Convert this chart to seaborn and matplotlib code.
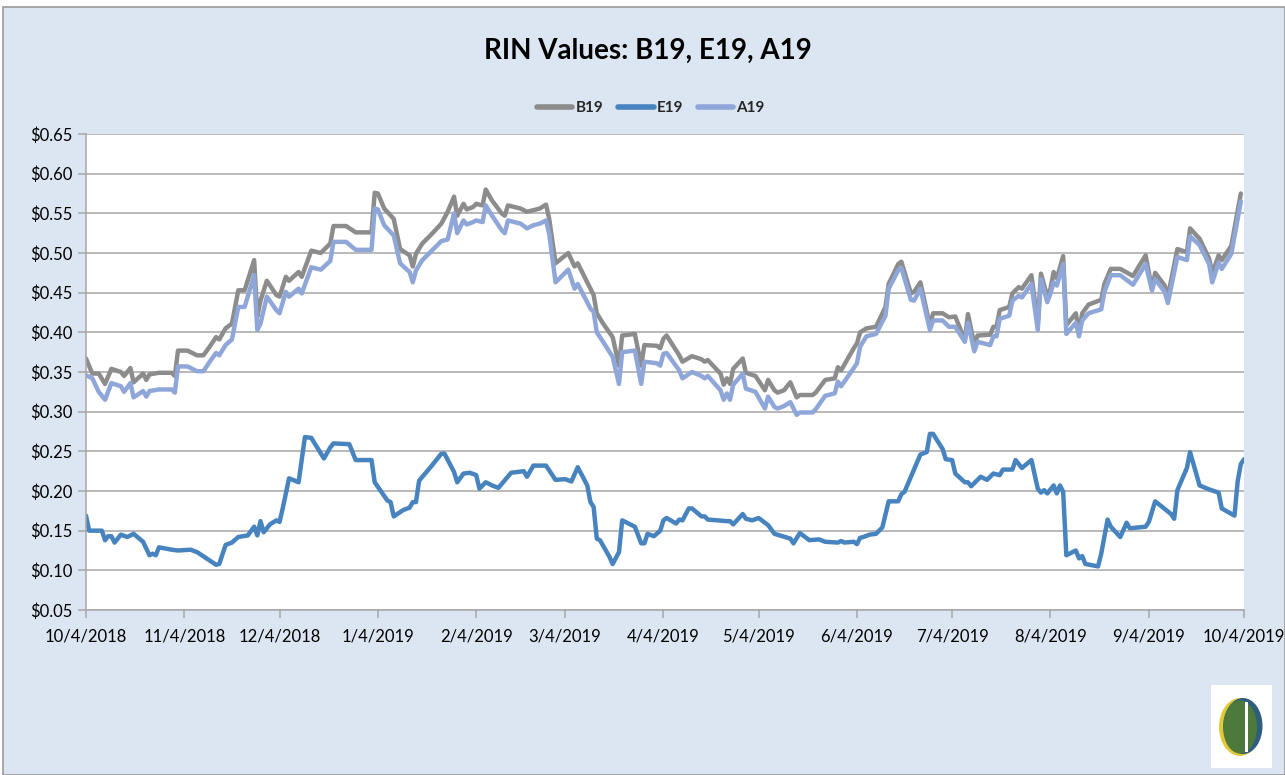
import matplotlib
matplotlib.use("Agg")
import matplotlib.pyplot as plt
import matplotlib.dates as mdates
from matplotlib.patches import Rectangle, Ellipse
from matplotlib.ticker import FuncFormatter, MultipleLocator
import seaborn as sns
import pandas as pd
import numpy as np

# -------------------------------
# Data, days counted from 10/4/2018
# -------------------------------
start = pd.Timestamp("2018-10-04")
end = pd.Timestamp("2019-10-04")

ba_days = [0, 2, 4, 6, 8, 11, 12, 14, 15, 18, 19, 20, 23, 27, 28, 29, 32, 35, 37, 39,
           41, 42, 44, 46, 48, 50, 53, 54, 55, 57, 60, 61, 63, 64, 67, 68, 71, 74, 77, 78,
           82, 85, 90, 91, 92, 94, 97, 99, 102, 103, 104, 106, 109, 112, 114, 116, 117, 119, 120, 122,
           123, 125, 126, 128, 131, 132, 133, 137, 139, 141, 143, 145, 146, 148, 152, 154, 155, 159, 160, 161,
           163, 166, 168, 169, 173, 175, 176, 180, 181, 182, 183, 187, 188, 191, 194, 195, 196, 200, 201, 202,
           203, 204, 207, 208, 211, 214, 215, 217, 218, 220, 222, 224, 225, 229, 230, 233, 236, 237, 238, 242,
           243, 244, 246, 249, 252, 253, 256, 257, 260, 261, 263, 266, 267, 270, 272, 274, 277, 278, 280, 281,
           285, 286, 287, 288, 291, 292, 294, 295, 298, 300, 301, 303, 304, 305, 306, 308, 309, 312, 313, 314,
           316, 320, 321, 323, 326, 330, 334, 336, 337, 340, 341, 344, 347, 348, 351, 354, 355, 357, 358, 361,
           364]

b19 = [0.367, 0.348, 0.348, 0.335, 0.354, 0.350, 0.345, 0.355, 0.337, 0.348, 0.340, 0.347, 0.349, 0.349, 0.345, 0.377, 0.377, 0.371, 0.371, 0.382,
       0.394, 0.391, 0.405, 0.411, 0.453, 0.453, 0.491, 0.420, 0.440, 0.465, 0.447, 0.445, 0.470, 0.465, 0.476, 0.470, 0.503, 0.500, 0.512, 0.534,
       0.534, 0.526, 0.526, 0.576, 0.575, 0.556, 0.543, 0.505, 0.497, 0.483, 0.499, 0.512, 0.524, 0.537, 0.552, 0.571, 0.547, 0.562, 0.555, 0.558,
       0.562, 0.560, 0.580, 0.566, 0.550, 0.547, 0.560, 0.556, 0.552, 0.554, 0.556, 0.561, 0.543, 0.487, 0.500, 0.483, 0.487, 0.455, 0.447, 0.424,
       0.411, 0.394, 0.358, 0.396, 0.398, 0.358, 0.384, 0.383, 0.380, 0.392, 0.396, 0.371, 0.363, 0.370, 0.366, 0.363, 0.365, 0.348, 0.334, 0.342,
       0.335, 0.354, 0.367, 0.349, 0.345, 0.327, 0.340, 0.327, 0.324, 0.327, 0.337, 0.318, 0.321, 0.321, 0.324, 0.340, 0.342, 0.356, 0.352, 0.380,
       0.386, 0.400, 0.405, 0.407, 0.432, 0.461, 0.486, 0.489, 0.449, 0.451, 0.463, 0.408, 0.424, 0.424, 0.419, 0.420, 0.390, 0.423, 0.384, 0.396,
       0.397, 0.407, 0.407, 0.428, 0.432, 0.449, 0.457, 0.455, 0.472, 0.411, 0.474, 0.445, 0.455, 0.476, 0.468, 0.496, 0.409, 0.424, 0.400, 0.424,
       0.435, 0.441, 0.461, 0.480, 0.480, 0.471, 0.497, 0.454, 0.475, 0.459, 0.445, 0.505, 0.501, 0.531, 0.518, 0.493, 0.474, 0.497, 0.491, 0.509,
       0.575]

a19 = [0.346, 0.342, 0.325, 0.315, 0.336, 0.332, 0.325, 0.336, 0.318, 0.326, 0.319, 0.326, 0.328, 0.328, 0.324, 0.357, 0.357, 0.351, 0.351, 0.363,
       0.374, 0.371, 0.384, 0.391, 0.432, 0.432, 0.472, 0.403, 0.411, 0.445, 0.428, 0.424, 0.451, 0.445, 0.455, 0.449, 0.482, 0.479, 0.490, 0.514,
       0.514, 0.504, 0.504, 0.556, 0.555, 0.535, 0.522, 0.487, 0.476, 0.463, 0.478, 0.491, 0.503, 0.515, 0.517, 0.550, 0.525, 0.541, 0.536, 0.539,
       0.541, 0.539, 0.560, 0.547, 0.529, 0.525, 0.541, 0.537, 0.531, 0.535, 0.537, 0.541, 0.524, 0.463, 0.479, 0.455, 0.461, 0.430, 0.426, 0.400,
       0.388, 0.369, 0.335, 0.375, 0.377, 0.335, 0.363, 0.361, 0.358, 0.373, 0.374, 0.352, 0.342, 0.350, 0.345, 0.342, 0.345, 0.327, 0.315, 0.323,
       0.315, 0.334, 0.348, 0.329, 0.325, 0.304, 0.319, 0.306, 0.304, 0.307, 0.312, 0.296, 0.299, 0.299, 0.303, 0.320, 0.323, 0.338, 0.332, 0.355,
       0.361, 0.382, 0.395, 0.398, 0.421, 0.455, 0.478, 0.481, 0.441, 0.440, 0.455, 0.403, 0.415, 0.415, 0.407, 0.407, 0.388, 0.412, 0.376, 0.388,
       0.384, 0.395, 0.395, 0.417, 0.421, 0.440, 0.446, 0.444, 0.461, 0.403, 0.467, 0.438, 0.449, 0.463, 0.459, 0.486, 0.398, 0.412, 0.395, 0.415,
       0.424, 0.429, 0.451, 0.472, 0.472, 0.460, 0.486, 0.453, 0.467, 0.451, 0.437, 0.495, 0.491, 0.521, 0.510, 0.486, 0.463, 0.488, 0.480, 0.499,
       0.565]

e_days = [0, 1, 5, 6, 7, 8, 9, 11, 13, 15, 18, 20, 21, 22, 23, 27, 29, 33, 35, 41,
          42, 44, 46, 48, 51, 53, 54, 55, 56, 58, 60, 61, 62, 64, 67, 69, 71, 75, 77, 78,
          83, 85, 90, 91, 95, 96, 97, 100, 102, 103, 104, 105, 109, 112, 113, 116, 117, 119, 121, 123,
          124, 126, 128, 130, 134, 138, 139, 141, 145, 148, 151, 153, 155, 158, 159, 160, 161, 162, 165, 166,
          168, 169, 173, 175, 176, 177, 179, 181, 182, 183, 186, 187, 188, 190, 191, 194, 195, 196, 202, 203,
          204, 207, 208, 210, 212, 215, 217, 222, 223, 225, 228, 231, 233, 237, 238, 239, 242, 243, 244, 245,
          247, 249, 251, 253, 256, 257, 258, 263, 265, 266, 267, 270, 271, 273, 274, 277, 278, 279, 282, 284,
          286, 288, 289, 292, 293, 295, 298, 300, 301, 302, 303, 305, 306, 307, 308, 309, 312, 313, 314, 315,
          319, 320, 322, 323, 326, 328, 329, 334, 335, 337, 342, 343, 344, 347, 348, 351, 354, 357, 358, 362,
          363, 364, 365]

e19 = [0.169, 0.150, 0.150, 0.138, 0.143, 0.143, 0.135, 0.145, 0.142, 0.146, 0.136, 0.119, 0.121, 0.119, 0.129, 0.126, 0.125, 0.126, 0.123, 0.107,
       0.108, 0.132, 0.135, 0.142, 0.144, 0.155, 0.144, 0.162, 0.148, 0.158, 0.163, 0.161, 0.178, 0.216, 0.211, 0.268, 0.267, 0.241, 0.255, 0.260,
       0.259, 0.239, 0.239, 0.211, 0.188, 0.186, 0.168, 0.176, 0.179, 0.186, 0.186, 0.213, 0.232, 0.247, 0.247, 0.224, 0.211, 0.222, 0.223, 0.220,
       0.203, 0.211, 0.207, 0.204, 0.223, 0.225, 0.218, 0.232, 0.232, 0.214, 0.215, 0.212, 0.230, 0.207, 0.186, 0.180, 0.140, 0.138, 0.117, 0.108,
       0.123, 0.163, 0.155, 0.134, 0.134, 0.146, 0.143, 0.150, 0.163, 0.166, 0.159, 0.164, 0.163, 0.178, 0.178, 0.168, 0.168, 0.164, 0.162, 0.162,
       0.158, 0.171, 0.165, 0.163, 0.166, 0.157, 0.146, 0.140, 0.134, 0.147, 0.138, 0.139, 0.136, 0.135, 0.137, 0.135, 0.136, 0.133, 0.141, 0.142,
       0.145, 0.146, 0.154, 0.187, 0.187, 0.196, 0.199, 0.246, 0.249, 0.272, 0.272, 0.253, 0.240, 0.239, 0.222, 0.211, 0.211, 0.206, 0.218, 0.214,
       0.222, 0.220, 0.227, 0.227, 0.239, 0.229, 0.239, 0.203, 0.198, 0.201, 0.197, 0.207, 0.197, 0.207, 0.199, 0.119, 0.125, 0.115, 0.118, 0.108,
       0.105, 0.121, 0.164, 0.155, 0.142, 0.160, 0.153, 0.155, 0.161, 0.187, 0.171, 0.165, 0.201, 0.229, 0.249, 0.207, 0.202, 0.198, 0.178, 0.169,
       0.212, 0.234, 0.240]

series_order = ["B19", "E19", "A19"]
colors = {"B19": "#8C8C8C", "E19": "#4683BF", "A19": "#8FA6D9"}

frames = [
    pd.DataFrame({"date": start + pd.to_timedelta(ba_days, unit="D"), "value": b19, "series": "B19"}),
    pd.DataFrame({"date": start + pd.to_timedelta(e_days, unit="D"), "value": e19, "series": "E19"}),
    pd.DataFrame({"date": start + pd.to_timedelta(ba_days, unit="D"), "value": a19, "series": "A19"}),
]
df = pd.concat(frames, ignore_index=True)

# -------------------------------
# Style
# -------------------------------
sns.set_theme(style="white")
plt.rcParams["font.family"] = ["Lato", "DejaVu Sans"]

panel = "#DCE6F2"
grid_c = "#A6A6A6"

fig = plt.figure(figsize=(12.85, 7.75), dpi=100)
fig.patch.set_facecolor("white")
fig.patches.append(Rectangle((3 / 1285, 0), 1 - 3 / 1285, 1 - 7 / 775, transform=fig.transFigure,
                             facecolor=panel, edgecolor="#9A9A9A", linewidth=1.2, zorder=-10))

ax = fig.add_axes([86 / 1285, 1 - 610 / 775, (1244 - 86) / 1285, (610 - 134) / 775])
ax.set_facecolor("white")

sns.lineplot(data=df, x="date", y="value", hue="series", hue_order=series_order,
             palette=colors, estimator=None, sort=False, linewidth=3.2, ax=ax)

ax.set_xlim(start, end)
ax.set_ylim(0.05, 0.65)
ax.yaxis.set_major_locator(MultipleLocator(0.05))
ax.yaxis.set_major_formatter(FuncFormatter(lambda v, p: f"${v:.2f}"))
ax.xaxis.set_major_locator(mdates.MonthLocator(bymonthday=4))
ax.xaxis.set_major_formatter(FuncFormatter(
    lambda v, p: (lambda d: f"{d.month}/{d.day}/{d.year}")(mdates.num2date(v))))

ax.grid(axis="y", color=grid_c, linewidth=1.1)
ax.grid(axis="x", visible=False)
ax.set_axisbelow(True)
for side in ["top", "right"]:
    ax.spines[side].set_visible(False)
for side in ["left", "bottom"]:
    ax.spines[side].set_color(grid_c)
    ax.spines[side].set_linewidth(1.1)

ax.tick_params(axis="both", which="major", direction="out", length=6, width=1.1,
               color=grid_c, labelsize=12, labelcolor="black", bottom=True, left=True)
ax.tick_params(axis="y", pad=4)
ax.tick_params(axis="x", pad=7)
ax.set_xlabel("")
ax.set_ylabel("")

sns.move_legend(ax, "center", bbox_to_anchor=(651 / 1285, 1 - 108 / 775),
                bbox_transform=fig.transFigure, ncol=3, frameon=False, title=None,
                handlelength=2.3, columnspacing=1.0, handletextpad=0.2,
                prop={"weight": "bold", "size": 11})
for line in ax.get_legend().get_lines():
    line.set_linewidth(4)

fig.text(648 / 1285, 1 - 51 / 775, "RIN Values: B19, E19, A19", ha="center", va="center",
         fontsize=20, fontweight="bold", color="black")

# small logo box, bottom right
fig.patches.append(Rectangle((1211 / 1285, 1 - 768 / 775), 61 / 1285, 83 / 775,
                             transform=fig.transFigure, facecolor="white", edgecolor="none"))
fig.patches.append(Ellipse((1240 / 1285, 1 - 727 / 775), 42 / 1285, 58 / 775,
                           transform=fig.transFigure, facecolor="#E3C93A", edgecolor="none"))
fig.patches.append(Ellipse((1243 / 1285, 1 - 726 / 775), 39 / 1285, 56 / 775,
                           transform=fig.transFigure, facecolor="#2F5D7C", edgecolor="none"))
fig.patches.append(Ellipse((1240 / 1285, 1 - 727 / 775), 34 / 1285, 53 / 775,
                           transform=fig.transFigure, facecolor="#4D7A3A", edgecolor="none"))
fig.patches.append(Rectangle((1245 / 1285, 1 - 752 / 775), 3 / 1285, 50 / 775,
                             transform=fig.transFigure, facecolor="white", edgecolor="none"))

fig.savefig("out.png", dpi=100, facecolor=fig.get_facecolor())
plt.close(fig)
